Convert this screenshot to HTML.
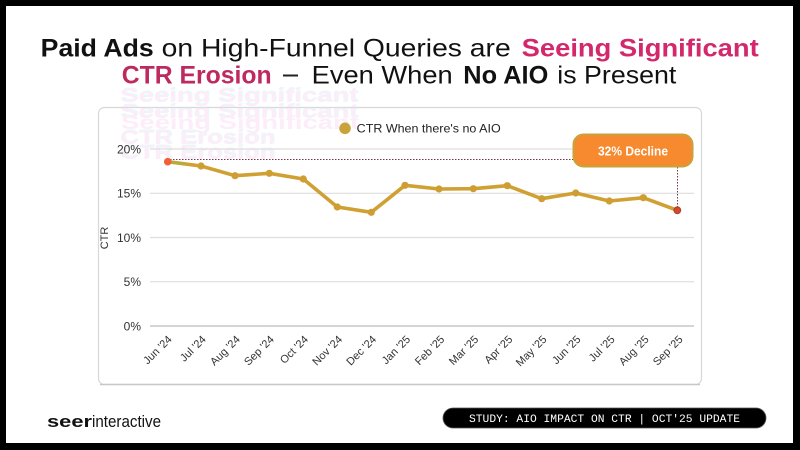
<!DOCTYPE html>
<html><head><meta charset="utf-8"><style>
html,body{margin:0;padding:0;background:#000;}
svg{display:block;}
</style></head><body>
<svg width="800" height="450" viewBox="0 0 800 450" xmlns="http://www.w3.org/2000/svg" font-family="'Liberation Sans', sans-serif">
<rect x="0" y="0" width="800" height="450" fill="#000"/>
<rect x="6" y="6" width="787" height="437" fill="#fff"/>

<!-- Title -->
<text y="56.7" font-size="25" fill="#111">
<tspan x="40.7" font-weight="bold" textLength="113" lengthAdjust="spacingAndGlyphs">Paid Ads</tspan>
</text>
<text y="56.7" font-size="25" fill="#111"><tspan x="161.7" textLength="349" lengthAdjust="spacingAndGlyphs">on High-Funnel Queries are</tspan></text>
<text y="56.7" font-size="25" fill="#D3286B" font-weight="bold"><tspan x="521.7" textLength="237" lengthAdjust="spacingAndGlyphs">Seeing Significant</tspan></text>

<text y="83.3" font-size="25" fill="#BE2A5E" font-weight="bold"><tspan x="121.7" textLength="150" lengthAdjust="spacingAndGlyphs">CTR Erosion</tspan></text>
<rect x="283" y="74.5" width="15" height="2" fill="#222"/>
<text y="83.3" font-size="25" fill="#111"><tspan x="311.7" textLength="141" lengthAdjust="spacingAndGlyphs">Even When</tspan></text>
<text y="83.3" font-size="25" fill="#111" font-weight="bold"><tspan x="463.3" textLength="85" lengthAdjust="spacingAndGlyphs">No AIO</tspan></text>
<text y="83.3" font-size="25" fill="#111"><tspan x="557.3" textLength="119" lengthAdjust="spacingAndGlyphs">is Present</tspan></text>

<!-- Card -->
<rect x="98.5" y="107.5" width="603" height="277" rx="6" fill="#fff" stroke="#d8d8d8" stroke-width="1.2"/>
<line x1="100" y1="384.5" x2="700" y2="384.5" stroke="#c8c8c8" stroke-width="1.5"/>

<!-- glitch overlay -->
<g font-size="19" font-weight="bold" opacity="0.4">
<text x="121" y="101" fill="#bff3f6" textLength="238" lengthAdjust="spacingAndGlyphs">Seeing Significant</text>
<text x="120" y="102" fill="#f8d3f0" textLength="238" lengthAdjust="spacingAndGlyphs">Seeing Significant</text>
<text x="121" y="117" fill="#bff3f6" textLength="238" lengthAdjust="spacingAndGlyphs">Seeing Significant</text>
<text x="120" y="118" fill="#f8d3f0" textLength="238" lengthAdjust="spacingAndGlyphs">Seeing Significant</text>
<text x="121" y="129" fill="#f8d3f0" textLength="238" lengthAdjust="spacingAndGlyphs">Seeing Significant</text>
<text x="121" y="143" fill="#bff3f6" textLength="155" lengthAdjust="spacingAndGlyphs">CTR Erosion</text>
<text x="120" y="144" fill="#f8d3f0" textLength="155" lengthAdjust="spacingAndGlyphs">CTR Erosion</text>
<text x="121" y="158" fill="#bff3f6" textLength="155" lengthAdjust="spacingAndGlyphs">CTR Erosion</text>
<text x="120" y="159" fill="#f8d3f0" textLength="155" lengthAdjust="spacingAndGlyphs">CTR Erosion</text>
</g>

<!-- Legend -->
<circle cx="345" cy="128.3" r="5.8" fill="#C9A23A"/>
<text x="356.7" y="132.5" font-size="12" fill="#222" textLength="144" lengthAdjust="spacingAndGlyphs">CTR When there's no AIO</text>

<!-- Grid -->
<g stroke="#dedede" stroke-width="1.2">
<line x1="150" y1="149" x2="694" y2="149"/>
<line x1="150" y1="193.3" x2="694" y2="193.3"/>
<line x1="150" y1="237.5" x2="694" y2="237.5"/>
<line x1="150" y1="281.7" x2="694" y2="281.7"/>
</g>
<line x1="150" y1="326" x2="694" y2="326" stroke="#cfcfcf" stroke-width="1.8"/>

<!-- Y tick labels -->
<g font-size="12" fill="#333" text-anchor="end">
<text x="141" y="153.3">20%</text>
<text x="141" y="197.6">15%</text>
<text x="141" y="241.8">10%</text>
<text x="141" y="286">5%</text>
<text x="141" y="330.3">0%</text>
</g>
<text transform="translate(108,238) rotate(-90)" font-size="11" fill="#333" text-anchor="middle">CTR</text>

<!-- X labels -->
<g font-size="11" fill="#333" text-anchor="end">
<text transform="translate(172.5,340) rotate(-45)">Jun '24</text>
<text transform="translate(206.6,340) rotate(-45)">Jul '24</text>
<text transform="translate(240.7,340) rotate(-45)">Aug '24</text>
<text transform="translate(274.7,340) rotate(-45)">Sep '24</text>
<text transform="translate(308.8,340) rotate(-45)">Oct '24</text>
<text transform="translate(342.9,340) rotate(-45)">Nov '24</text>
<text transform="translate(376.9,340) rotate(-45)">Dec '24</text>
<text transform="translate(411,340) rotate(-45)">Jan '25</text>
<text transform="translate(445.1,340) rotate(-45)">Feb '25</text>
<text transform="translate(479.1,340) rotate(-45)">Mar '25</text>
<text transform="translate(513.2,340) rotate(-45)">Apr '25</text>
<text transform="translate(547.3,340) rotate(-45)">May '25</text>
<text transform="translate(581.3,340) rotate(-45)">Jun '25</text>
<text transform="translate(615.4,340) rotate(-45)">Jul '25</text>
<text transform="translate(649.5,340) rotate(-45)">Aug '25</text>
<text transform="translate(683.5,340) rotate(-45)">Sep '25</text>
</g>

<!-- dotted annotation lines -->
<line x1="170" y1="159.5" x2="574" y2="159.5" stroke="#7a3548" stroke-width="1" stroke-dasharray="1.5,1.5"/>
<line x1="677.5" y1="167" x2="677.5" y2="208" stroke="#7a3548" stroke-width="1" stroke-dasharray="1.5,1.5"/>

<!-- Series -->
<polyline fill="none" stroke="#D0A033" stroke-width="3.6" stroke-linejoin="round" stroke-linecap="round"
points="167.7,161.7 201,166 235,175.7 269.3,173.3 303.3,179 337.3,207 371.3,212.3 405,185.3 439,189 473.3,188.7 507.3,185.7 541.7,198.7 575.7,193 609.3,201 643.3,197.7 677.3,210.3"/>
<line x1="167.7" y1="161.7" x2="185" y2="164" stroke="#8cc04a" stroke-width="1.5" opacity="0.6"/>
<g fill="#CE9E33">
<circle cx="201" cy="166" r="3.6"/>
<circle cx="235" cy="175.7" r="3.6"/>
<circle cx="269.3" cy="173.3" r="3.6"/>
<circle cx="303.3" cy="179" r="3.6"/>
<circle cx="337.3" cy="207" r="3.6"/>
<circle cx="371.3" cy="212.3" r="3.6"/>
<circle cx="405" cy="185.3" r="3.6"/>
<circle cx="439" cy="189" r="3.6"/>
<circle cx="473.3" cy="188.7" r="3.6"/>
<circle cx="507.3" cy="185.7" r="3.6"/>
<circle cx="541.7" cy="198.7" r="3.6"/>
<circle cx="575.7" cy="193" r="3.6"/>
<circle cx="609.3" cy="201" r="3.6"/>
<circle cx="643.3" cy="197.7" r="3.6"/>
</g>
<circle cx="167.7" cy="161.7" r="3.8" fill="#F0603A"/>
<circle cx="677.3" cy="210.3" r="3.4" fill="#D5482B" stroke="#a8402a" stroke-width="1"/>

<!-- Decline label -->
<rect x="573.5" y="134.5" width="119" height="32" rx="10" fill="#F7892E" stroke="#C8A23A" stroke-width="2"/>
<text x="633" y="155.5" font-size="12.5" font-weight="bold" fill="#fff" text-anchor="middle" textLength="70" lengthAdjust="spacingAndGlyphs">32% Decline</text>

<!-- Footer -->
<text y="427" font-size="17" fill="#111"><tspan x="47" font-weight="bold" textLength="45" lengthAdjust="spacingAndGlyphs">seer</tspan></text>
<text y="427" font-size="17" fill="#111"><tspan x="92" textLength="69" lengthAdjust="spacingAndGlyphs">interactive</tspan></text>

<rect x="443" y="408" width="323" height="20" rx="10" fill="#000" stroke="#555" stroke-width="0.8"/>
<text x="469" y="422" font-family="'Liberation Mono', monospace" font-size="11" fill="#fff" textLength="271" lengthAdjust="spacingAndGlyphs">STUDY: AIO IMPACT ON CTR | OCT'25 UPDATE</text>
</svg>
</body></html>
